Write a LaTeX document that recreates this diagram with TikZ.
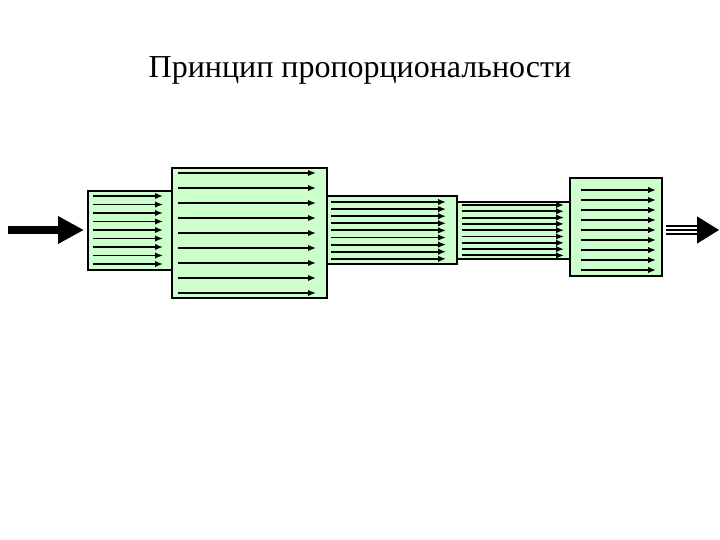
\documentclass[tikz,border=0pt]{standalone}
\usepackage{fontspec}
\setmainfont{Liberation Serif}
\usetikzlibrary{arrows.meta}
\definecolor{boxgreen}{HTML}{CCFFCC}
\tikzset{
  stage/.style={draw=black, line width=2pt, fill=boxgreen},
  flow/.style={line width=1.9pt, -{Latex[length=8pt,width=6.5pt]}},
  wire/.style={line width=1.4pt},
}
\begin{document}
\begin{tikzpicture}[x=1pt,y=-1pt]
\useasboundingbox (0,0) rectangle (720,540);
\node[font=\fontsize{32}{38}\selectfont, anchor=base] (title) at (360,78) {Принцип пропорциональности};
% boxes
\draw[stage] (88,191) rectangle (172,270);
\draw[stage] (327,196) rectangle (457,264);
\draw[stage] (457,202) rectangle (570,259);
\draw[stage] (172,168) rectangle (327,298);
\draw[stage] (570,178) rectangle (662,276);
% inner arrows
\foreach \i in {0,...,8} {
  \coordinate (a\i) at (93,{196+8.5*\i});
  \coordinate (ae\i) at (163,{196+8.5*\i});
  \draw[flow] (a\i) -- (ae\i);
  \coordinate (b\i) at (178,{173+15*\i});
  \coordinate (be\i) at (316,{173+15*\i});
  \draw[flow] (b\i) -- (be\i);
  \coordinate (c\i) at (331,{202+7.1*\i});
  \coordinate (ce\i) at (446,{202+7.1*\i});
  \draw[flow] (c\i) -- (ce\i);
  \coordinate (d\i) at (462,{205+6.3*\i});
  \coordinate (de\i) at (564,{205+6.3*\i});
  \draw[flow] (d\i) -- (de\i);
  \coordinate (e\i) at (581,{190+10*\i});
  \coordinate (ee\i) at (656,{190+10*\i});
  \draw[flow] (e\i) -- (ee\i);
}
% input arrow
\coordinate (in0) at (8,230);
\coordinate (in1) at (84,230);
\draw[line width=8.5pt, -{Triangle[length=26pt,width=26pt]}] (in0) -- (in1);
% output arrow: three thin lines and a head
\coordinate (o1) at (666,226);
\coordinate (o1e) at (700,226);
\coordinate (o2) at (666,230);
\coordinate (o2e) at (719,230);
\coordinate (o3) at (666,234);
\coordinate (o3e) at (700,234);
\draw[wire] (o1) -- (o1e);
\draw[wire] (o3) -- (o3e);
\draw[wire, -{Triangle[length=22pt,width=27pt]}] (o2) -- (o2e);
\end{tikzpicture}
\end{document}
